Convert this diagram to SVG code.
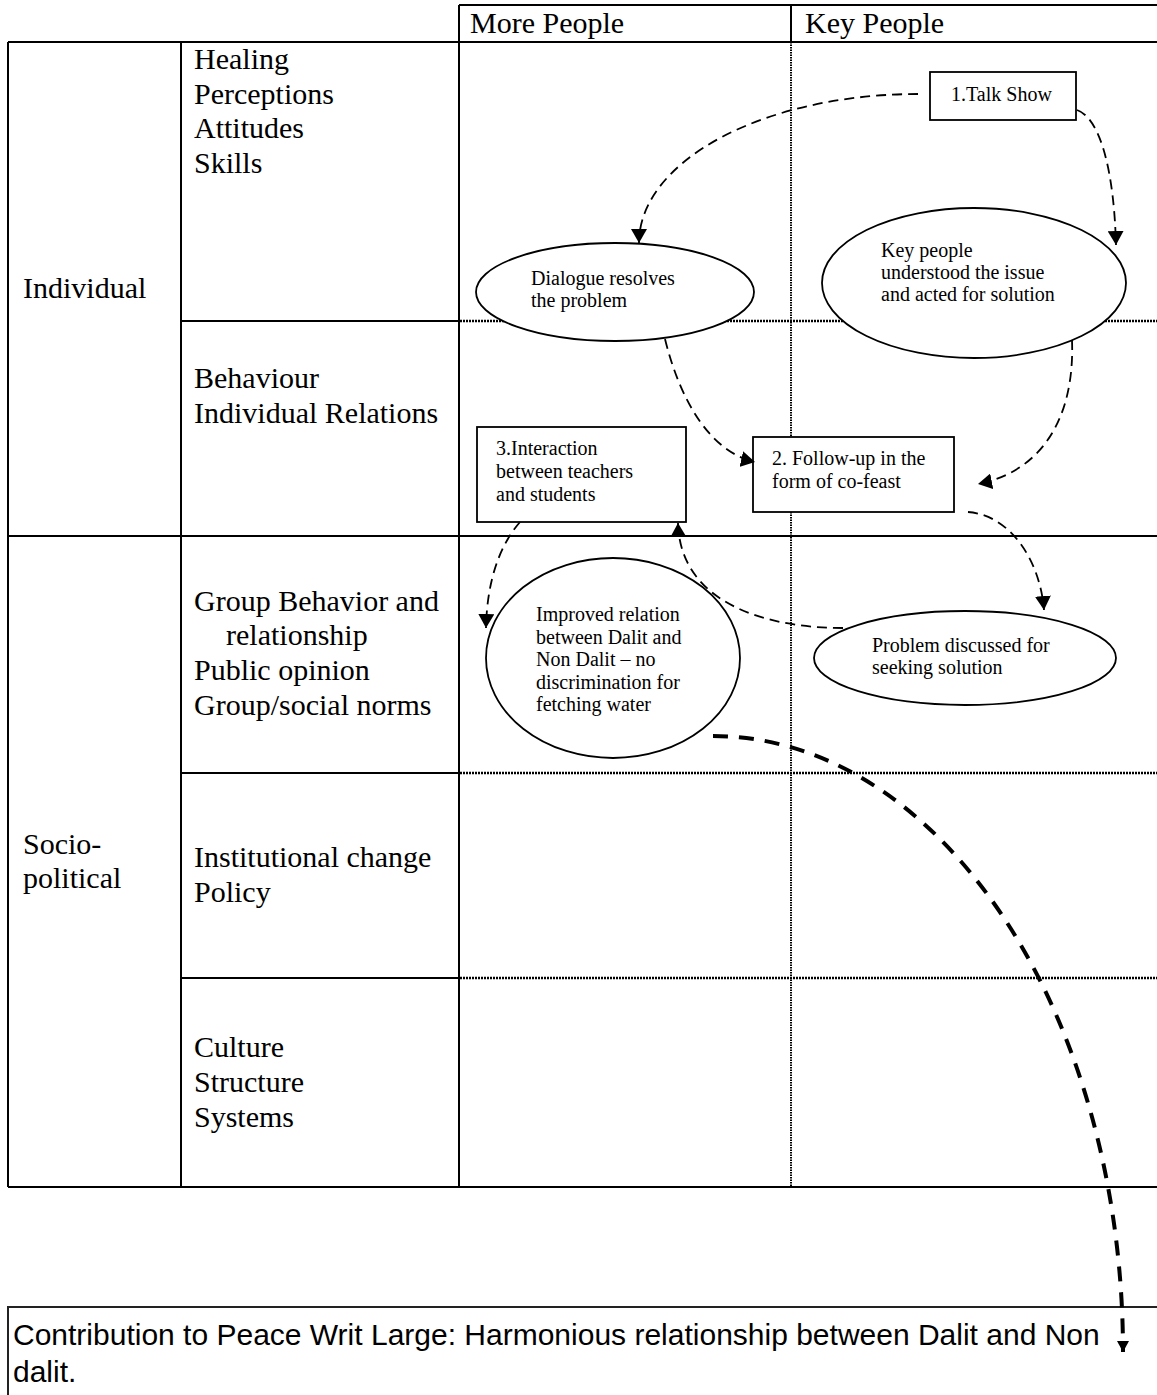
<svg xmlns="http://www.w3.org/2000/svg" width="1157" height="1395" viewBox="0 0 1157 1395">
  <style>
    .serif { font-family: "Liberation Serif", "Times New Roman", serif; fill: #000; }
    .sans { font-family: "Liberation Sans", Arial, sans-serif; fill: #000; }
    .lbl { font-size: 30px; }
    .small { font-size: 20px; }
    .grid { stroke: #000; stroke-width: 2; fill: none; }
    .dotted { stroke: #000; stroke-width: 2.5; stroke-dasharray: 2 1; fill: none; }
    .vdot { stroke: #000; stroke-width: 2; stroke-dasharray: 1.5 1; fill: none; }
    .shape { fill: #fff; stroke: #000; stroke-width: 1.8; }
    .conn { fill: none; stroke: #000; stroke-width: 1.8; stroke-dasharray: 10 6; }
    .thick { fill: none; stroke: #000; stroke-width: 4; stroke-dasharray: 15 11; }
  </style>
  <defs>
    <marker id="arrow" markerUnits="userSpaceOnUse" markerWidth="15" markerHeight="16" refX="14" refY="8" orient="auto">
      <path d="M0,0 L14,8 L0,16 z" fill="#000"/>
    </marker>
    <marker id="arrow-small" markerUnits="userSpaceOnUse" markerWidth="12" markerHeight="12" refX="11" refY="6" orient="auto">
      <path d="M0,0 L11,6 L0,12 z" fill="#000"/>
    </marker>
  </defs>

  <rect width="1157" height="1395" fill="#fff"/>

  <!-- grid of the matrix -->
  <g id="grid">
    <!-- header row -->
    <line class="grid" x1="459" y1="5" x2="1157" y2="5"/>
    <line class="grid" x1="791" y1="5" x2="791" y2="42"/>
    <!-- outer frame and solid rules -->
    <line class="grid" x1="8" y1="42" x2="1157" y2="42"/>
    <line class="grid" x1="8" y1="42" x2="8" y2="1187"/>
    <line class="grid" x1="181" y1="42" x2="181" y2="1187"/>
    <line class="grid" x1="459" y1="5" x2="459" y2="1187"/>
    <line class="grid" x1="181" y1="321" x2="459" y2="321"/>
    <line class="grid" x1="8" y1="536" x2="1157" y2="536"/>
    <line class="grid" x1="181" y1="773" x2="459" y2="773"/>
    <line class="grid" x1="181" y1="978" x2="459" y2="978"/>
    <line class="grid" x1="8" y1="1187" x2="1157" y2="1187"/>
    <!-- dotted rules inside the two right columns -->
    <line class="dotted" x1="460" y1="321" x2="1157" y2="321"/>
    <line class="dotted" x1="460" y1="773" x2="1157" y2="773"/>
    <line class="dotted" x1="460" y1="978" x2="1157" y2="978"/>
    <line class="vdot" x1="791" y1="42" x2="791" y2="1187"/>
  </g>

  <!-- column headers -->
  <g id="headers" class="serif lbl">
    <text x="470" y="33">More People</text>
    <text x="805" y="33">Key People</text>
  </g>

  <!-- row labels -->
  <g id="levels" class="serif lbl">
    <text x="23" y="298">Individual</text>
    <text x="23" y="854">Socio-</text>
    <text x="23" y="888">political</text>
  </g>
  <g id="domains" class="serif lbl">
    <text x="194" y="69">Healing</text>
    <text x="194" y="104">Perceptions</text>
    <text x="194" y="138">Attitudes</text>
    <text x="194" y="173">Skills</text>
    <text x="194" y="388">Behaviour</text>
    <text x="194" y="423">Individual Relations</text>
    <text x="194" y="611">Group Behavior and</text>
    <text x="226" y="645">relationship</text>
    <text x="194" y="680">Public opinion</text>
    <text x="194" y="715">Group/social norms</text>
    <text x="194" y="867">Institutional change</text>
    <text x="194" y="902">Policy</text>
    <text x="194" y="1057">Culture</text>
    <text x="194" y="1092">Structure</text>
    <text x="194" y="1127">Systems</text>
  </g>

  <!-- nodes -->
  <g id="talk-show">
    <rect class="shape" x="930" y="72" width="146" height="48"/>
    <text class="serif small" x="951" y="101">1.Talk Show</text>
  </g>
  <g id="dialogue">
    <ellipse class="shape" cx="615" cy="292" rx="139" ry="49"/>
    <text class="serif small" x="531" y="285">Dialogue resolves</text>
    <text class="serif small" x="531" y="307">the problem</text>
  </g>
  <g id="key-people">
    <ellipse class="shape" cx="974" cy="283" rx="152" ry="75"/>
    <text class="serif small" x="881" y="257">Key people</text>
    <text class="serif small" x="881" y="279">understood the issue</text>
    <text class="serif small" x="881" y="301">and acted for solution</text>
  </g>
  <g id="follow-up">
    <rect class="shape" x="753" y="437" width="201" height="75"/>
    <text class="serif small" x="772" y="465">2. Follow-up in the</text>
    <text class="serif small" x="772" y="488">form of co-feast</text>
  </g>
  <g id="interaction">
    <rect class="shape" x="477" y="427" width="209" height="95"/>
    <text class="serif small" x="496" y="455">3.Interaction</text>
    <text class="serif small" x="496" y="478">between teachers</text>
    <text class="serif small" x="496" y="501">and students</text>
  </g>
  <g id="improved-relation">
    <ellipse class="shape" cx="613" cy="658" rx="127" ry="100"/>
    <text class="serif small" x="536" y="621">Improved relation</text>
    <text class="serif small" x="536" y="644">between Dalit and</text>
    <text class="serif small" x="536" y="666">Non Dalit – no</text>
    <text class="serif small" x="536" y="689">discrimination for</text>
    <text class="serif small" x="536" y="711">fetching water</text>
  </g>
  <g id="problem-discussed">
    <ellipse class="shape" cx="965" cy="658" rx="151" ry="47"/>
    <text class="serif small" x="872" y="652">Problem discussed for</text>
    <text class="serif small" x="872" y="674">seeking solution</text>
  </g>
  <g id="peace-writ-large">
    <rect x="8" y="1307" width="1200" height="200" fill="#fff" stroke="#222" stroke-width="2"/>
    <text class="sans" font-size="30" x="13" y="1345">Contribution to Peace Writ Large: Harmonious relationship between Dalit and Non</text>
    <text class="sans" font-size="30" x="13" y="1382">dalit.</text>
  </g>

  <!-- connectors -->
  <g id="connectors">
    <path class="conn" marker-end="url(#arrow)" d="M 918 94 A 279 149 0 0 0 639 243"/>
    <path class="conn" marker-end="url(#arrow)" d="M 1077 110 C 1100 118, 1114 170, 1116 245"/>
    <path class="conn" marker-end="url(#arrow)" d="M 665 339 C 680 400, 710 452, 755 462"/>
    <path class="conn" marker-end="url(#arrow)" d="M 1072 340 C 1075 420, 1040 472, 978 484"/>
    <path class="conn" marker-end="url(#arrow)" d="M 520 522 C 500 545, 487 580, 486 628"/>
    <path class="conn" marker-end="url(#arrow)" d="M 843 628 C 760 628, 680 600, 678 523"/>
    <path class="conn" marker-end="url(#arrow)" d="M 968 512 C 1010 515, 1040 560, 1044 610"/>
    <path class="thick" marker-end="url(#arrow-small)" d="M 713 736 A 410 616 0 0 1 1123 1352"/>
  </g>
</svg>
